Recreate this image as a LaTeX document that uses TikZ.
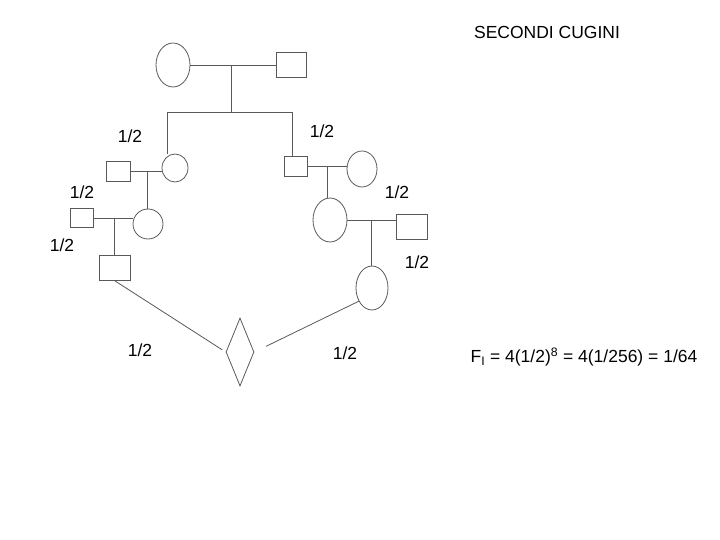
\documentclass[tikz,border=0pt]{standalone}
\usepackage{fontspec}
\setmainfont{Liberation Sans}
\usepackage{xcolor}
\usetikzlibrary{positioning,shapes.geometric}

\colorlet{tratto}{black!65}

\begin{document}
\begin{tikzpicture}[x=1pt, y=-1pt, line width=0.8pt,
    maschio/.style={rectangle, draw=tratto, inner sep=0pt},
    femmina/.style={ellipse, draw=tratto, inner sep=0pt},
    ignoto/.style={diamond, draw=tratto, inner sep=0pt, minimum width=28pt, minimum height=68pt},
    linea/.style={draw=tratto},
    quota/.style={font=\fontsize{17.5}{20}\selectfont}]
  \useasboundingbox (0,0) rectangle (720,540);

  % antenati comuni
  \node[femmina, minimum width=34pt, minimum height=44pt] (nonna) at (173,65) {};
  \node[maschio, minimum width=30pt, minimum height=25pt] (nonno) at (291,65) {};
  \draw[linea] (nonna.east) -- coordinate[pos=0.48] (m0) (nonno.west);
  \coordinate (sx) at (167,112);
  \coordinate (dx) at (292,112);
  \draw[linea] (m0) -- (m0 |- sx);
  \draw[linea] (sx) -- (dx);

  % ramo sinistro
  \node[femmina, minimum width=26pt, minimum height=28pt] (figlia) at (175,168) {};
  \node[maschio, minimum width=24pt, minimum height=20pt] (sposoA) at (118,171) {};
  \draw[linea] (sx) -- (sx |- figlia.north);
  \draw[linea] (sposoA.east) -- coordinate[pos=0.55] (m1) (sposoA.east -| figlia.west);
  \node[femmina, minimum width=30pt, minimum height=30pt] (nipoteA) at (148,224) {};
  \draw[linea] (m1) -- (m1 |- nipoteA.north);
  \node[maschio, minimum width=23pt, minimum height=19pt] (sposoB) at (82,218) {};
  \draw[linea] (sposoB.east) -- coordinate[pos=0.52] (m2) (sposoB.east -| nipoteA.west);
  \node[maschio, minimum width=31pt, minimum height=25pt] (cuginoA) at (115,268) {};
  \draw[linea] (m2) -- (m2 |- cuginoA.north);

  % ramo destro
  \node[maschio, minimum width=23pt, minimum height=20pt] (figlio) at (296,166) {};
  \node[femmina, minimum width=30pt, minimum height=36pt] (sposaC) at (362,169) {};
  \draw[linea] (dx) -- (dx |- figlio.north);
  \draw[linea] (figlio.east) -- coordinate[pos=0.5] (m3) (figlio.east -| sposaC.west);
  \node[femmina, minimum width=34pt, minimum height=44pt] (nipoteB) at (330,220) {};
  \draw[linea] (m3) -- (m3 |- nipoteB.north);
  \node[maschio, minimum width=31pt, minimum height=25pt] (sposoD) at (412,227) {};
  \draw[linea] (nipoteB.east) -- coordinate[pos=0.5] (m4) (nipoteB.east -| sposoD.west);
  \node[femmina, minimum width=32pt, minimum height=44pt] (cuginoB) at (372,288) {};
  \draw[linea] (m4) -- (m4 |- cuginoB.north);

  % individuo inbred
  \node[ignoto] (prole) at (240,352) {};
  \draw[linea, shorten >=4pt] (cuginoA.south) -- (prole.west);
  \draw[linea, shorten <=13pt] (prole.east) -- (cuginoB.225);

  % probabilita
  \node[quota] (q1) at (130,136) {1/2};
  \node[quota] (q2) at (322,131) {1/2};
  \node[quota] (q3) at (82,192) {1/2};
  \node[quota] (q4) at (397,192) {1/2};
  \node[quota] (q5) at (62,245) {1/2};
  \node[quota] (q6) at (417,262) {1/2};
  \node[quota] (q7) at (140,350) {1/2};
  \node[quota] (q8) at (345,353) {1/2};

  \node[quota] (titolo) at (547,32) {SECONDI CUGINI};
  \node[quota] (formula) at (584,357)
    {F\textsubscript{I} = 4(1/2)\textsuperscript{8} = 4(1/256) = 1/64};
\end{tikzpicture}
\end{document}
